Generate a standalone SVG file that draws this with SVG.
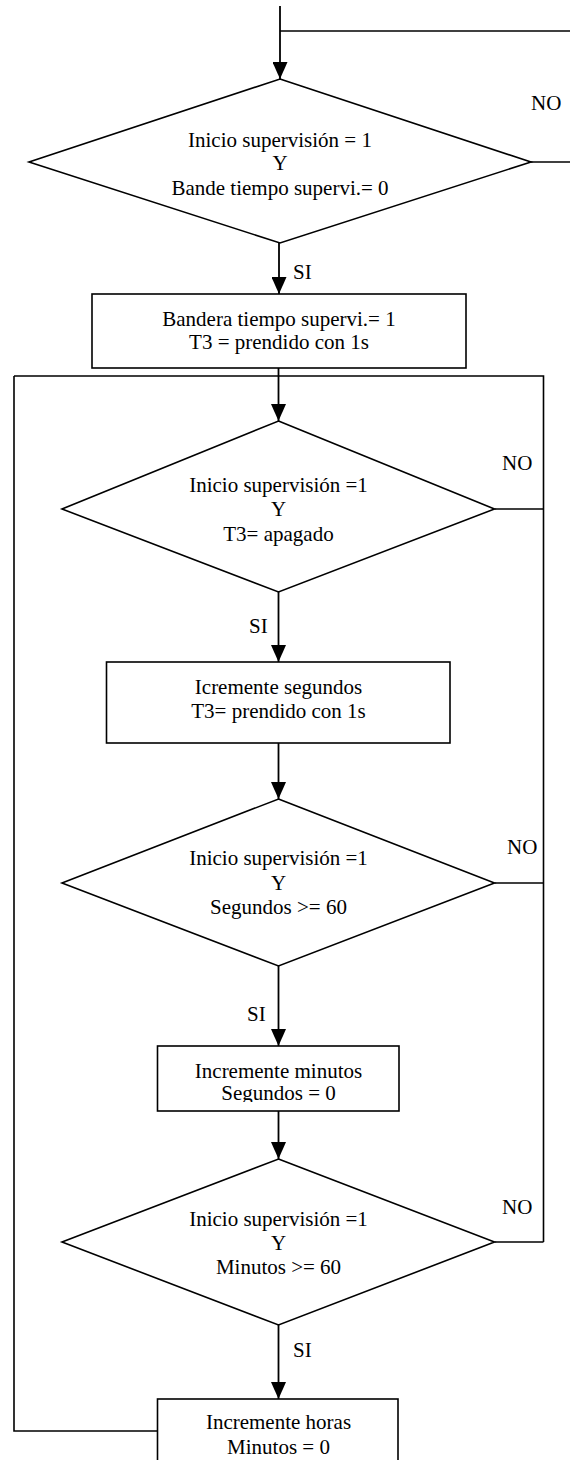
<svg xmlns="http://www.w3.org/2000/svg" width="570" height="1460" viewBox="0 0 570 1460">
  <style>
    .shape { fill: #fff; stroke: #000; stroke-width: 1.6; }
    .wire { fill: none; stroke: #000; stroke-width: 1.6; }
    .flow { fill: none; stroke: #000; stroke-width: 1.8; marker-end: url(#arrow); }
    text { font-family: "Liberation Serif", "Times New Roman", serif; font-size: 21px; fill: #000; }
    .c { text-anchor: middle; }
  </style>
  <defs>
    <marker id="arrow" markerUnits="userSpaceOnUse" markerWidth="17" markerHeight="15" refX="17" refY="7.5" orient="auto">
      <path d="M0,0 L17,7.5 L0,15 z" fill="#000"/>
    </marker>
    <clipPath id="clip-min">
      <rect x="157" y="1046" width="242" height="56"/>
    </clipPath>
  </defs>

  <rect width="570" height="1460" fill="#fff"/>

  <!-- connectors -->
  <g id="connectors">
    <path class="flow" d="M280,6 V79"/>
    <path class="wire" d="M280,31 H570"/>
    <path class="wire" d="M531,162 H570"/>
    <path class="flow" d="M279,243 V294"/>
    <path class="flow" d="M278.5,368 V421"/>
    <path class="wire" d="M14,376 H543.5 V1242"/>
    <path class="wire" d="M494.5,509 H543.5"/>
    <path class="wire" d="M494.5,883 H543.5"/>
    <path class="wire" d="M494.5,1242 H543.5"/>
    <path class="flow" d="M278.5,592 V662"/>
    <path class="flow" d="M278.5,743 V799"/>
    <path class="flow" d="M278.5,966 V1046"/>
    <path class="flow" d="M278.5,1111 V1159"/>
    <path class="flow" d="M278.5,1325 V1399"/>
    <path class="wire" d="M157.5,1431 H14 V376"/>
    <text x="531" y="110">NO</text>
    <text x="293" y="279">SI</text>
    <text x="502" y="470">NO</text>
    <text x="249" y="633">SI</text>
    <text x="507" y="854">NO</text>
    <text x="247" y="1021">SI</text>
    <text x="502" y="1214">NO</text>
    <text x="293" y="1357">SI</text>
  </g>

  <!-- start condition -->
  <g id="cond-start">
    <polygon class="shape" points="280,79 531,162 280,243 29,162"/>
    <text class="c" x="280" y="147">Inicio supervisión = 1</text>
    <text class="c" x="280" y="170">Y</text>
    <text class="c" x="280" y="195">Bande tiempo supervi.= 0</text>
  </g>

  <g id="set-flag">
    <rect class="shape" x="92" y="294" width="374" height="74"/>
    <text class="c" x="279" y="326">Bandera tiempo supervi.= 1</text>
    <text class="c" x="279" y="349">T3 = prendido con 1s</text>
  </g>

  <g id="cond-timer">
    <polygon class="shape" points="278.5,421 494.5,509 278.5,592 62,509"/>
    <text class="c" x="278.5" y="492">Inicio supervisión =1</text>
    <text class="c" x="278.5" y="516">Y</text>
    <text class="c" x="278.5" y="541">T3= apagado</text>
  </g>

  <g id="inc-seconds">
    <rect class="shape" x="106.5" y="662" width="343.5" height="81"/>
    <text class="c" x="278.5" y="694">Icremente segundos</text>
    <text class="c" x="278.5" y="718">T3= prendido con 1s</text>
  </g>

  <g id="cond-seconds">
    <polygon class="shape" points="278.5,799 494.5,883 278.5,966 62,883"/>
    <text class="c" x="278.5" y="865">Inicio supervisión =1</text>
    <text class="c" x="278.5" y="890">Y</text>
    <text class="c" x="278.5" y="914">Segundos &gt;= 60</text>
  </g>

  <g id="inc-minutes">
    <rect class="shape" x="157.5" y="1046" width="241.5" height="65"/>
    <g clip-path="url(#clip-min)">
      <text class="c" x="278.5" y="1078">Incremente minutos</text>
      <text class="c" x="278.5" y="1100">Segundos = 0</text>
    </g>
  </g>

  <g id="cond-minutes">
    <polygon class="shape" points="278.5,1159 494.5,1242 278.5,1325 62,1242"/>
    <text class="c" x="278.5" y="1226">Inicio supervisión =1</text>
    <text class="c" x="278.5" y="1250">Y</text>
    <text class="c" x="278.5" y="1274">Minutos &gt;= 60</text>
  </g>

  <g id="inc-hours">
    <rect class="shape" x="157.5" y="1399" width="240.5" height="75"/>
    <text class="c" x="278.5" y="1429">Incremente horas</text>
    <text class="c" x="278.5" y="1454">Minutos = 0</text>
  </g>
</svg>
